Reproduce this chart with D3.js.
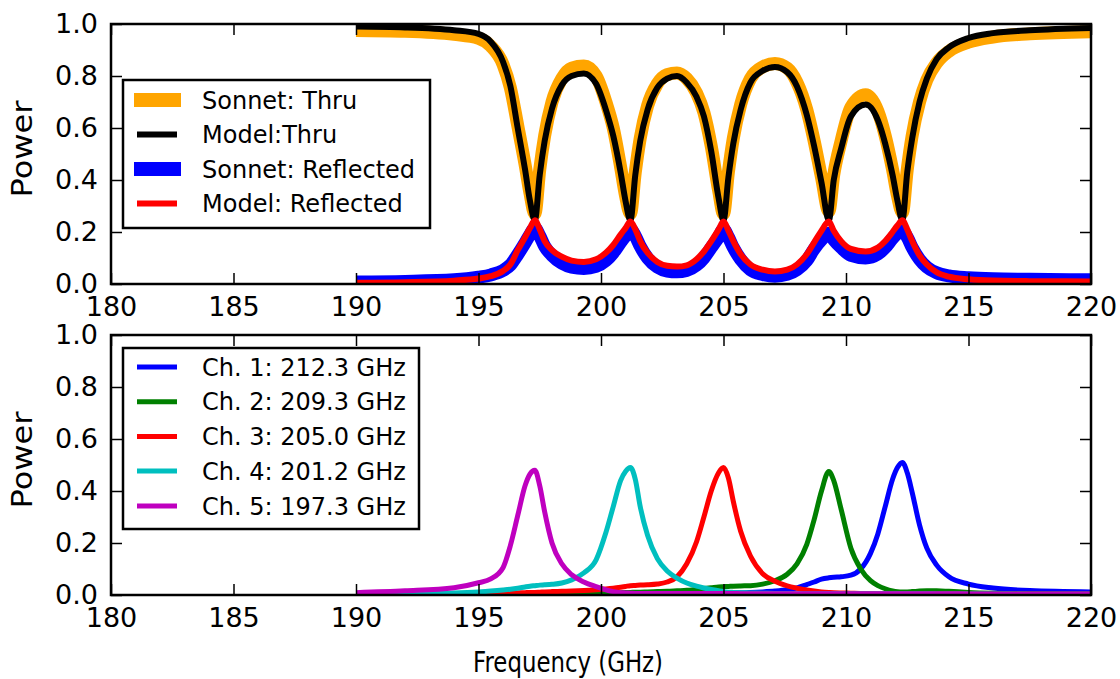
<!DOCTYPE html>
<html><head><meta charset="utf-8">
<script src="https://cdn.jsdelivr.net/npm/d3@7"></script>
<style>body{margin:0;background:#fff}svg{display:block}text{font-family:"DejaVu Sans",sans-serif}</style>
</head><body><svg id="c" width="1120" height="679"></svg>
<script>
// ---------- data ----------
const xTicks = [180,185,190,195,200,205,210,215,220];
const yTicks = [0,0.2,0.4,0.6,0.8,1.0];

const freqTop = [190,192,194,195,195.5,196,196.3,196.6,196.9,197.1,197.3,197.5,197.7,198,198.4,198.8,199.3,199.8,200.2,200.5,200.8,201.0,201.2,201.4,201.6,201.9,202.3,202.7,203.1,203.5,203.9,204.2,204.5,204.8,205.0,205.2,205.4,205.7,206.1,206.6,207.1,207.6,208.0,208.4,208.7,209.0,209.3,209.5,209.8,210.2,210.8,211.3,211.6,211.9,212.1,212.3,212.5,212.7,213.0,213.3,213.7,214.2,215,216,217.5,220];

const sonnetThru = [0.975,0.972,0.96,0.945,0.915,0.845,0.755,0.61,0.46,0.35,0.27,0.44,0.57,0.70,0.79,0.83,0.838,0.80,0.70,0.60,0.45,0.34,0.27,0.43,0.56,0.685,0.77,0.805,0.812,0.79,0.735,0.66,0.53,0.36,0.27,0.43,0.56,0.69,0.79,0.835,0.848,0.83,0.775,0.67,0.55,0.41,0.28,0.42,0.55,0.68,0.728,0.665,0.57,0.44,0.34,0.275,0.44,0.57,0.70,0.785,0.85,0.895,0.93,0.95,0.962,0.97];

const modelThru = [0.99,0.987,0.976,0.962,0.932,0.855,0.762,0.60,0.44,0.32,0.245,0.42,0.55,0.675,0.765,0.80,0.81,0.77,0.67,0.57,0.43,0.32,0.245,0.42,0.55,0.67,0.755,0.79,0.80,0.775,0.72,0.645,0.51,0.33,0.245,0.41,0.54,0.67,0.775,0.82,0.835,0.815,0.76,0.65,0.53,0.39,0.245,0.40,0.52,0.645,0.69,0.63,0.54,0.42,0.32,0.245,0.43,0.56,0.70,0.79,0.865,0.91,0.946,0.965,0.976,0.985];

const sonnetRefl = [0.008,0.01,0.016,0.026,0.035,0.052,0.073,0.113,0.158,0.19,0.215,0.185,0.145,0.11,0.08,0.065,0.06,0.068,0.09,0.12,0.16,0.185,0.21,0.185,0.145,0.10,0.065,0.05,0.047,0.052,0.072,0.10,0.14,0.18,0.21,0.18,0.14,0.095,0.055,0.037,0.03,0.037,0.055,0.09,0.135,0.17,0.195,0.17,0.14,0.11,0.10,0.115,0.14,0.175,0.195,0.205,0.18,0.14,0.095,0.065,0.043,0.031,0.024,0.02,0.018,0.016];

const modelRefl = [0.005,0.007,0.013,0.021,0.03,0.05,0.075,0.13,0.18,0.215,0.245,0.21,0.165,0.13,0.105,0.09,0.085,0.095,0.12,0.15,0.19,0.215,0.24,0.21,0.165,0.12,0.085,0.07,0.067,0.072,0.095,0.125,0.165,0.21,0.24,0.205,0.165,0.115,0.075,0.055,0.048,0.055,0.075,0.115,0.16,0.205,0.24,0.205,0.165,0.135,0.125,0.14,0.165,0.20,0.225,0.245,0.21,0.165,0.11,0.075,0.045,0.028,0.018,0.013,0.011,0.01];

const freqBottom = [190,192,194,195,195.5,196,196.3,196.6,196.9,197.1,197.3,197.5,197.7,198,198.4,198.8,199.3,199.8,200.2,200.5,200.8,201.0,201.2,201.4,201.6,201.9,202.3,202.7,203.1,203.5,203.9,204.2,204.5,204.8,205.0,205.2,205.4,205.7,206.1,206.6,207.1,207.6,208.0,208.4,208.7,209.0,209.3,209.5,209.8,210.2,210.6,211.0,211.3,211.6,211.9,212.1,212.3,212.5,212.7,213.0,213.3,213.7,214.2,215,216,217.5,220];

const ch1 = [0.001,0.001,0.002,0.002,0.002,0.003,0.003,0.003,0.003,0.003,0.003,0.004,0.004,0.004,0.004,0.004,0.005,0.005,0.005,0.005,0.005,0.005,0.006,0.006,0.006,0.006,0.006,0.006,0.007,0.007,0.007,0.007,0.008,0.008,0.008,0.008,0.009,0.009,0.01,0.012,0.015,0.02,0.027,0.04,0.05,0.061,0.066,0.068,0.07,0.076,0.10,0.16,0.235,0.34,0.445,0.49,0.51,0.47,0.395,0.27,0.18,0.115,0.07,0.042,0.027,0.017,0.012];

const ch2 = [0.001,0.001,0.002,0.002,0.002,0.003,0.003,0.003,0.004,0.004,0.004,0.004,0.005,0.005,0.005,0.006,0.007,0.008,0.008,0.009,0.009,0.01,0.01,0.011,0.011,0.012,0.013,0.014,0.016,0.018,0.022,0.025,0.028,0.031,0.032,0.033,0.034,0.035,0.036,0.042,0.055,0.08,0.12,0.195,0.29,0.40,0.475,0.44,0.33,0.18,0.10,0.055,0.036,0.024,0.016,0.013,0.012,0.012,0.013,0.015,0.016,0.016,0.014,0.01,0.007,0.005,0.004];

const ch3 = [0.001,0.002,0.003,0.004,0.005,0.006,0.007,0.008,0.009,0.01,0.01,0.011,0.012,0.013,0.014,0.015,0.017,0.02,0.023,0.026,0.03,0.033,0.036,0.037,0.038,0.039,0.042,0.05,0.07,0.12,0.205,0.30,0.40,0.47,0.49,0.45,0.36,0.245,0.15,0.082,0.053,0.035,0.026,0.019,0.015,0.012,0.01,0.009,0.008,0.007,0.006,0.006,0.005,0.005,0.005,0.005,0.005,0.005,0.004,0.004,0.004,0.004,0.004,0.003,0.003,0.003,0.003];

const ch4 = [0.003,0.005,0.008,0.012,0.015,0.019,0.022,0.026,0.031,0.034,0.036,0.038,0.039,0.041,0.046,0.058,0.085,0.135,0.24,0.34,0.44,0.475,0.49,0.445,0.34,0.23,0.14,0.092,0.065,0.046,0.034,0.027,0.021,0.016,0.013,0.011,0.01,0.009,0.008,0.007,0.006,0.006,0.005,0.005,0.005,0.005,0.005,0.005,0.005,0.005,0.005,0.005,0.005,0.005,0.005,0.005,0.005,0.005,0.005,0.005,0.005,0.004,0.004,0.004,0.004,0.003,0.003];

const ch5 = [0.009,0.016,0.028,0.047,0.062,0.105,0.19,0.305,0.42,0.465,0.48,0.42,0.32,0.20,0.12,0.078,0.05,0.032,0.02,0.013,0.009,0.008,0.007,0.006,0.006,0.006,0.006,0.006,0.006,0.006,0.006,0.006,0.006,0.006,0.006,0.006,0.006,0.005,0.005,0.005,0.005,0.005,0.005,0.005,0.005,0.005,0.005,0.005,0.005,0.005,0.005,0.005,0.005,0.005,0.005,0.005,0.005,0.005,0.005,0.005,0.005,0.005,0.005,0.004,0.004,0.004,0.004];

const topNames = ["Sonnet: Thru","Model:Thru","Sonnet: Reflected","Model: Reflected"];
const topColors = ["#ffa500","#000000","#0000ff","#ff0000"];
const topWidths = [13,6,13,6];
const botNames = ["Ch. 1: 212.3 GHz","Ch. 2: 209.3 GHz","Ch. 3: 205.0 GHz","Ch. 4: 201.2 GHz","Ch. 5: 197.3 GHz"];
const botColors = ["#0000ff","#008000","#ff0000","#00bfbf","#bf00bf"];

// ---------- drawing ----------
const svg = d3.select("#c");
const X0 = 111, X1 = 1091;
const x = d3.scaleLinear().domain([180,220]).range([X0,X1]);

function panel(top, bottom, freqs, series, colors, widths, names, legendBox, rowY, clipId) {
  const y = d3.scaleLinear().domain([0,1]).range([bottom, top]);
  const g = svg.append("g");
  g.append("clipPath").attr("id", clipId).append("rect")
    .attr("x", X0).attr("y", top).attr("width", X1-X0).attr("height", bottom-top);
  const line = d3.line().x((d,i)=>x(freqs[i])).y(d=>y(d)).curve(d3.curveMonotoneX);
  const lg = g.append("g").attr("clip-path", `url(#${clipId})`);
  series.forEach((s,k)=>{
    lg.append("path").datum(s).attr("d", line).attr("fill","none")
      .attr("stroke", colors[k]).attr("stroke-width", widths[k])
      .attr("stroke-linejoin","round");
  });
  const fs = 27;
  const ax = g.append("g").attr("transform",`translate(0,${bottom})`)
    .call(d3.axisBottom(x).tickValues(xTicks).tickSize(-11).tickPadding(13).tickFormat(d3.format("d")));
  const ay = g.append("g").attr("transform",`translate(${X0},0)`)
    .call(d3.axisLeft(y).tickValues(yTicks).tickSize(-11).tickPadding(13).tickFormat(d3.format(".1f")));
  const axT = g.append("g").attr("transform",`translate(0,${top})`)
    .call(d3.axisTop(x).tickValues(xTicks).tickSize(-11).tickFormat(""));
  const ayR = g.append("g").attr("transform",`translate(${X1},0)`)
    .call(d3.axisRight(y).tickValues(yTicks).tickSize(-11).tickFormat(""));
  [ax,ay,axT,ayR].forEach(a=>{
    a.select(".domain").remove();
    a.selectAll(".tick line").attr("stroke","#000").attr("stroke-width",1.5);
    a.selectAll("text").attr("font-size",fs).attr("fill","#000").attr("font-family","DejaVu Sans");
  });
  g.append("rect").attr("x",X0).attr("y",top).attr("width",X1-X0).attr("height",bottom-top)
    .attr("fill","none").attr("stroke","#000").attr("stroke-width",2.5);
  g.append("text").attr("transform",`translate(32,${(top+bottom)/2-5}) rotate(-90)`)
    .attr("text-anchor","middle").attr("font-size",28).attr("textLength",97)
    .attr("lengthAdjust","spacingAndGlyphs").text("Power");
  const L = g.append("g");
  L.append("rect").attr("x",legendBox[0]).attr("y",legendBox[1]).attr("width",legendBox[2]).attr("height",legendBox[3])
    .attr("fill","#fff").attr("stroke","#000").attr("stroke-width",2.5);
  names.forEach((n,k)=>{
    const cy = rowY[k];
    const thick = widths[k] > 8;
    L.append("line").attr("x1", thick?134:137).attr("x2", thick?181:177).attr("y1",cy).attr("y2",cy)
      .attr("stroke",colors[k]).attr("stroke-width", thick?14:(widths[k]>5?6:5));
    L.append("text").attr("x",202).attr("y",cy+8.5).attr("font-size",24).text(n);
  });
  return g;
}

panel(24, 284, freqTop, [sonnetThru, modelThru, sonnetRefl, modelRefl], topColors, topWidths, topNames,
      [123,80,307,148], [100,134.5,169,203.5], "clipTop");
panel(335, 595, freqBottom, [ch1,ch2,ch3,ch4,ch5], botColors, [5,5,5,5,5], botNames,
      [123,348,296,181], [367,401.7,436.5,471,506], "clipBot");

svg.append("text").attr("x",473).attr("y",672).attr("font-size",29).attr("textLength",190)
  .attr("lengthAdjust","spacingAndGlyphs").text("Frequency (GHz)");
</script>
</body></html>
